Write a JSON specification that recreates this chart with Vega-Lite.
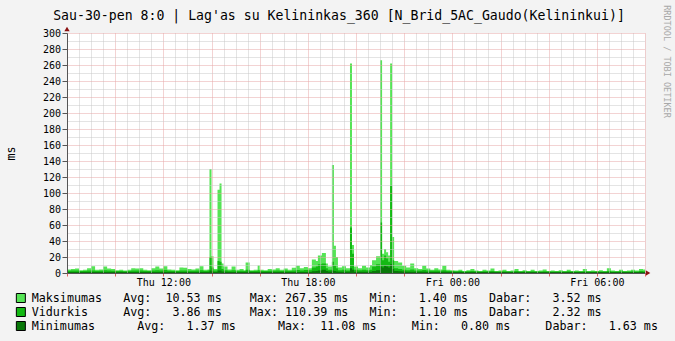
{
  "$schema": "https://vega.github.io/schema/vega-lite/v6.json",
  "width": 578,
  "height": 240,
  "autosize": {"type": "none"},
  "padding": {"left": 67, "top": 33, "right": 30, "bottom": 68},
  "background": "#f3f3f3",
  "config": {
    "view": {"fill": "white", "stroke": null},
    "font": "DejaVu Sans Mono"
  },
  "title": {
    "text": "Sau-30-pen 8:0 | Lag'as su Kelininkas_360 [N_Brid_5AC_Gaudo(Kelininkui)]",
    "font": "DejaVu Sans Mono",
    "fontSize": 13.2,
    "fontWeight": "normal",
    "color": "black",
    "anchor": "middle",
    "frame": "group",
    "dx": -17,
    "dy": 35,
    "baseline": "bottom",
    "offset": 4
  },
  "data": {
    "values": [
      {"t": "2015-01-29T08:00", "mx": 4.5, "av": 2.8, "mn": 1.3},
      {"t": "2015-01-29T08:10", "mx": 5, "av": 3, "mn": 1.4},
      {"t": "2015-01-29T08:20", "mx": 5.5, "av": 3, "mn": 1.3},
      {"t": "2015-01-29T08:30", "mx": 3.5, "av": 2.5, "mn": 1.2},
      {"t": "2015-01-29T08:40", "mx": 4, "av": 2.6, "mn": 1.3},
      {"t": "2015-01-29T08:50", "mx": 6, "av": 3, "mn": 1.3},
      {"t": "2015-01-29T09:00", "mx": 8.5, "av": 3.2, "mn": 1.4},
      {"t": "2015-01-29T09:10", "mx": 4, "av": 2.6, "mn": 1.2},
      {"t": "2015-01-29T09:20", "mx": 4.5, "av": 2.7, "mn": 1.3},
      {"t": "2015-01-29T09:30", "mx": 8, "av": 3.5, "mn": 1.4},
      {"t": "2015-01-29T09:40", "mx": 5.5, "av": 3, "mn": 1.3},
      {"t": "2015-01-29T09:50", "mx": 5, "av": 2.8, "mn": 1.3},
      {"t": "2015-01-29T10:00", "mx": 3.5, "av": 2.4, "mn": 1.2},
      {"t": "2015-01-29T10:10", "mx": 4, "av": 2.5, "mn": 1.3},
      {"t": "2015-01-29T10:20", "mx": 3, "av": 2.3, "mn": 1.2},
      {"t": "2015-01-29T10:30", "mx": 4, "av": 2.6, "mn": 1.3},
      {"t": "2015-01-29T10:40", "mx": 6, "av": 3, "mn": 1.3},
      {"t": "2015-01-29T10:50", "mx": 5.5, "av": 3.1, "mn": 1.4},
      {"t": "2015-01-29T11:00", "mx": 6, "av": 3.2, "mn": 1.3},
      {"t": "2015-01-29T11:10", "mx": 4, "av": 2.6, "mn": 1.3},
      {"t": "2015-01-29T11:20", "mx": 3.5, "av": 2.5, "mn": 1.2},
      {"t": "2015-01-29T11:30", "mx": 6, "av": 3, "mn": 1.3},
      {"t": "2015-01-29T11:40", "mx": 8, "av": 3.4, "mn": 1.4},
      {"t": "2015-01-29T11:50", "mx": 5.5, "av": 3, "mn": 1.3},
      {"t": "2015-01-29T12:00", "mx": 8.5, "av": 3.6, "mn": 1.4},
      {"t": "2015-01-29T12:10", "mx": 4.5, "av": 2.8, "mn": 1.3},
      {"t": "2015-01-29T12:20", "mx": 4, "av": 2.6, "mn": 1.2},
      {"t": "2015-01-29T12:30", "mx": 3.5, "av": 2.5, "mn": 1.3},
      {"t": "2015-01-29T12:40", "mx": 7, "av": 3.2, "mn": 1.3},
      {"t": "2015-01-29T12:50", "mx": 6.5, "av": 3, "mn": 1.4},
      {"t": "2015-01-29T13:00", "mx": 5, "av": 2.8, "mn": 1.3},
      {"t": "2015-01-29T13:10", "mx": 4.5, "av": 2.7, "mn": 1.3},
      {"t": "2015-01-29T13:20", "mx": 5.5, "av": 3, "mn": 1.3},
      {"t": "2015-01-29T13:30", "mx": 8.5, "av": 3.4, "mn": 1.4},
      {"t": "2015-01-29T13:40", "mx": 4, "av": 2.6, "mn": 1.3},
      {"t": "2015-01-29T13:50", "mx": 4.5, "av": 3, "mn": 1.3},
      {"t": "2015-01-29T13:55", "mx": 130, "av": 20, "mn": 3},
      {"t": "2015-01-29T14:00", "mx": 21, "av": 7, "mn": 2},
      {"t": "2015-01-29T14:05", "mx": 5, "av": 3, "mn": 1.4},
      {"t": "2015-01-29T14:15", "mx": 104, "av": 15, "mn": 3},
      {"t": "2015-01-29T14:20", "mx": 112, "av": 14, "mn": 3},
      {"t": "2015-01-29T14:25", "mx": 12, "av": 5, "mn": 1.8},
      {"t": "2015-01-29T14:30", "mx": 8, "av": 3.5, "mn": 1.5},
      {"t": "2015-01-29T14:40", "mx": 4.5, "av": 2.8, "mn": 1.3},
      {"t": "2015-01-29T14:50", "mx": 8, "av": 3.4, "mn": 1.4},
      {"t": "2015-01-29T15:00", "mx": 4, "av": 2.6, "mn": 1.3},
      {"t": "2015-01-29T15:10", "mx": 5, "av": 2.8, "mn": 1.3},
      {"t": "2015-01-29T15:20", "mx": 3.5, "av": 2.5, "mn": 1.2},
      {"t": "2015-01-29T15:25", "mx": 13, "av": 4, "mn": 1.5},
      {"t": "2015-01-29T15:35", "mx": 3.5, "av": 2.4, "mn": 1.2},
      {"t": "2015-01-29T15:45", "mx": 4, "av": 2.6, "mn": 1.3},
      {"t": "2015-01-29T15:55", "mx": 9.5, "av": 3.4, "mn": 1.4},
      {"t": "2015-01-29T16:00", "mx": 4, "av": 2.6, "mn": 1.3},
      {"t": "2015-01-29T16:10", "mx": 3.5, "av": 2.4, "mn": 1.2},
      {"t": "2015-01-29T16:20", "mx": 5, "av": 2.8, "mn": 1.3},
      {"t": "2015-01-29T16:30", "mx": 4.5, "av": 2.7, "mn": 1.3},
      {"t": "2015-01-29T16:40", "mx": 6, "av": 3.1, "mn": 1.3},
      {"t": "2015-01-29T16:50", "mx": 4, "av": 2.6, "mn": 1.2},
      {"t": "2015-01-29T17:00", "mx": 5.5, "av": 3, "mn": 1.3},
      {"t": "2015-01-29T17:10", "mx": 4, "av": 2.5, "mn": 1.3},
      {"t": "2015-01-29T17:20", "mx": 6.5, "av": 3.2, "mn": 1.3},
      {"t": "2015-01-29T17:30", "mx": 9, "av": 3.6, "mn": 1.4},
      {"t": "2015-01-29T17:40", "mx": 6, "av": 3.2, "mn": 1.3},
      {"t": "2015-01-29T17:50", "mx": 7.5, "av": 3.8, "mn": 1.4},
      {"t": "2015-01-29T18:00", "mx": 6, "av": 3.4, "mn": 1.4},
      {"t": "2015-01-29T18:10", "mx": 17, "av": 7, "mn": 2.2},
      {"t": "2015-01-29T18:20", "mx": 15, "av": 8, "mn": 2.5},
      {"t": "2015-01-29T18:25", "mx": 22, "av": 11, "mn": 3},
      {"t": "2015-01-29T18:35", "mx": 25, "av": 12, "mn": 4},
      {"t": "2015-01-29T18:45", "mx": 12, "av": 6, "mn": 2.5},
      {"t": "2015-01-29T18:50", "mx": 8, "av": 4, "mn": 1.8},
      {"t": "2015-01-29T19:00", "mx": 135, "av": 14, "mn": 3},
      {"t": "2015-01-29T19:05", "mx": 34, "av": 9, "mn": 2.5},
      {"t": "2015-01-29T19:10", "mx": 20, "av": 6, "mn": 2},
      {"t": "2015-01-29T19:15", "mx": 7, "av": 3.5, "mn": 1.6},
      {"t": "2015-01-29T19:25", "mx": 8.5, "av": 4, "mn": 1.6},
      {"t": "2015-01-29T19:35", "mx": 6, "av": 3.2, "mn": 1.5},
      {"t": "2015-01-29T19:45", "mx": 262, "av": 57, "mn": 6},
      {"t": "2015-01-29T19:50", "mx": 35, "av": 24, "mn": 4},
      {"t": "2015-01-29T19:55", "mx": 8, "av": 4, "mn": 1.7},
      {"t": "2015-01-29T20:05", "mx": 6, "av": 3.4, "mn": 1.5},
      {"t": "2015-01-29T20:15", "mx": 9, "av": 4, "mn": 1.6},
      {"t": "2015-01-29T20:25", "mx": 7, "av": 3.5, "mn": 1.5},
      {"t": "2015-01-29T20:35", "mx": 10, "av": 4.2, "mn": 1.7},
      {"t": "2015-01-29T20:40", "mx": 16, "av": 8, "mn": 2.5},
      {"t": "2015-01-29T20:50", "mx": 21, "av": 11, "mn": 3.5},
      {"t": "2015-01-29T21:00", "mx": 266, "av": 63, "mn": 8},
      {"t": "2015-01-29T21:05", "mx": 24, "av": 16, "mn": 7},
      {"t": "2015-01-29T21:10", "mx": 30, "av": 22, "mn": 9},
      {"t": "2015-01-29T21:15", "mx": 26, "av": 18, "mn": 8},
      {"t": "2015-01-29T21:20", "mx": 22, "av": 14, "mn": 7},
      {"t": "2015-01-29T21:25", "mx": 262, "av": 109, "mn": 11},
      {"t": "2015-01-29T21:30", "mx": 45, "av": 16, "mn": 5},
      {"t": "2015-01-29T21:35", "mx": 15, "av": 6, "mn": 2.5},
      {"t": "2015-01-29T21:45", "mx": 13, "av": 5, "mn": 2.2},
      {"t": "2015-01-29T21:55", "mx": 9, "av": 4, "mn": 1.8},
      {"t": "2015-01-29T22:05", "mx": 7, "av": 3.5, "mn": 1.6},
      {"t": "2015-01-29T22:15", "mx": 12, "av": 4.5, "mn": 1.7},
      {"t": "2015-01-29T22:25", "mx": 6, "av": 3.2, "mn": 1.5},
      {"t": "2015-01-29T22:35", "mx": 5, "av": 3, "mn": 1.5},
      {"t": "2015-01-29T22:45", "mx": 9, "av": 3.6, "mn": 1.6},
      {"t": "2015-01-29T22:55", "mx": 5.5, "av": 3, "mn": 1.4},
      {"t": "2015-01-29T23:05", "mx": 4, "av": 2.7, "mn": 1.4},
      {"t": "2015-01-29T23:15", "mx": 6, "av": 3, "mn": 1.4},
      {"t": "2015-01-29T23:25", "mx": 4.5, "av": 2.8, "mn": 1.4},
      {"t": "2015-01-29T23:35", "mx": 9, "av": 3.4, "mn": 1.5},
      {"t": "2015-01-29T23:45", "mx": 4, "av": 2.6, "mn": 1.3},
      {"t": "2015-01-29T23:55", "mx": 3.5, "av": 2.5, "mn": 1.3},
      {"t": "2015-01-30T00:05", "mx": 3, "av": 2.2, "mn": 1.2},
      {"t": "2015-01-30T00:15", "mx": 4, "av": 2.4, "mn": 1.2},
      {"t": "2015-01-30T00:25", "mx": 2.5, "av": 2, "mn": 1.1},
      {"t": "2015-01-30T00:35", "mx": 3.5, "av": 2.3, "mn": 1.2},
      {"t": "2015-01-30T00:45", "mx": 5, "av": 2.6, "mn": 1.2},
      {"t": "2015-01-30T00:55", "mx": 3, "av": 2.1, "mn": 1.1},
      {"t": "2015-01-30T01:05", "mx": 2.5, "av": 2, "mn": 1.1},
      {"t": "2015-01-30T01:15", "mx": 4, "av": 2.3, "mn": 1.2},
      {"t": "2015-01-30T01:25", "mx": 3, "av": 2.1, "mn": 1.1},
      {"t": "2015-01-30T01:35", "mx": 5.5, "av": 2.6, "mn": 1.2},
      {"t": "2015-01-30T01:45", "mx": 2.5, "av": 1.9, "mn": 1.1},
      {"t": "2015-01-30T01:55", "mx": 3, "av": 2, "mn": 1.1},
      {"t": "2015-01-30T02:05", "mx": 4, "av": 2.2, "mn": 1.2},
      {"t": "2015-01-30T02:15", "mx": 2.5, "av": 1.9, "mn": 1.1},
      {"t": "2015-01-30T02:25", "mx": 3, "av": 2, "mn": 1.1},
      {"t": "2015-01-30T02:35", "mx": 5, "av": 2.4, "mn": 1.2},
      {"t": "2015-01-30T02:45", "mx": 2.5, "av": 1.9, "mn": 1.1},
      {"t": "2015-01-30T02:55", "mx": 3.5, "av": 2.1, "mn": 1.1},
      {"t": "2015-01-30T03:05", "mx": 2.5, "av": 1.9, "mn": 1.1},
      {"t": "2015-01-30T03:15", "mx": 4, "av": 2.2, "mn": 1.2},
      {"t": "2015-01-30T03:25", "mx": 2.5, "av": 1.9, "mn": 1.1},
      {"t": "2015-01-30T03:35", "mx": 3, "av": 2, "mn": 1.1},
      {"t": "2015-01-30T03:45", "mx": 4.5, "av": 2.3, "mn": 1.2},
      {"t": "2015-01-30T03:55", "mx": 2.5, "av": 1.9, "mn": 1.1},
      {"t": "2015-01-30T04:05", "mx": 3, "av": 2, "mn": 1.1},
      {"t": "2015-01-30T04:15", "mx": 2.5, "av": 1.8, "mn": 1.1},
      {"t": "2015-01-30T04:25", "mx": 3.5, "av": 2, "mn": 1.1},
      {"t": "2015-01-30T04:35", "mx": 2.5, "av": 1.8, "mn": 1.1},
      {"t": "2015-01-30T04:45", "mx": 4, "av": 2.1, "mn": 1.2},
      {"t": "2015-01-30T04:55", "mx": 2.5, "av": 1.8, "mn": 1.1},
      {"t": "2015-01-30T05:05", "mx": 3, "av": 1.9, "mn": 1.1},
      {"t": "2015-01-30T05:15", "mx": 2.5, "av": 1.8, "mn": 1.1},
      {"t": "2015-01-30T05:25", "mx": 5, "av": 2.3, "mn": 1.2},
      {"t": "2015-01-30T05:35", "mx": 2.5, "av": 1.8, "mn": 1.1},
      {"t": "2015-01-30T05:45", "mx": 3, "av": 1.9, "mn": 1.1},
      {"t": "2015-01-30T05:55", "mx": 2.5, "av": 1.8, "mn": 1.1},
      {"t": "2015-01-30T06:05", "mx": 3.5, "av": 2, "mn": 1.1},
      {"t": "2015-01-30T06:15", "mx": 2.5, "av": 1.8, "mn": 1.1},
      {"t": "2015-01-30T06:25", "mx": 6, "av": 2.4, "mn": 1.2},
      {"t": "2015-01-30T06:35", "mx": 3, "av": 1.9, "mn": 1.1},
      {"t": "2015-01-30T06:45", "mx": 2.5, "av": 1.8, "mn": 1.1},
      {"t": "2015-01-30T06:55", "mx": 4, "av": 2.1, "mn": 1.2},
      {"t": "2015-01-30T07:05", "mx": 2.5, "av": 1.8, "mn": 1.1},
      {"t": "2015-01-30T07:15", "mx": 3, "av": 1.9, "mn": 1.1},
      {"t": "2015-01-30T07:25", "mx": 4, "av": 2.2, "mn": 1.2},
      {"t": "2015-01-30T07:35", "mx": 3, "av": 2, "mn": 1.1},
      {"t": "2015-01-30T07:45", "mx": 5, "av": 2.4, "mn": 1.2},
      {"t": "2015-01-30T07:55", "mx": 4.5, "av": 2.3, "mn": 1.2},
      {"t": "2015-01-30T08:00", "mx": 4.5, "av": 2.3, "mn": 1.2}
    ]
  },
  "layer": [
    {
      "mark": {"type": "area", "interpolate": "step-after", "clip": true},
      "encoding": {
        "x": {
          "field": "t", "type": "temporal",
          "scale": {"domain": [{"year": 2015, "month": 1, "date": 29, "hours": 8}, {"year": 2015, "month": 1, "date": 30, "hours": 8}]},
          "axis": {
            "title": null,
            "zindex": 1,
            "tickCount": 48,
            "grid": true,
            "gridDash": [1, 1],
            "gridWidth": 1,
            "gridColor": {"condition": {"test": "hours(datum.value) % 2 == 0 && minutes(datum.value) == 0", "value": "#e7a6a6"}, "value": "#c8c8c8"},
            "domain": true,
            "domainColor": "#555555",
            "ticks": true,
            "tickSize": 3,
            "tickColor": {"condition": {"test": "hours(datum.value) % 2 == 0 && minutes(datum.value) == 0", "value": "#e06060"}, "value": "transparent"},
            "labelExpr": "hours(datum.value) % 6 == 0 && minutes(datum.value) == 0 ? timeFormat(datum.value, '%a %H:%M') : ''",
            "labelOverlap": false,
            "labelFlush": false,
            "labelFont": "DejaVu Sans Mono",
            "labelFontSize": 10,
            "labelColor": "black",
            "labelBaseline": "middle",
            "labelPadding": 6.5
          }
        },
        "y": {
          "field": "mx", "type": "quantitative",
          "scale": {"domain": [0, 300], "nice": false},
          "axis": {
            "orient": "left",
            "title": "ms",
            "titleFont": "DejaVu Sans Mono",
            "titleFontSize": 11.7,
            "titleFontWeight": "normal",
            "titleColor": "black",
            "titleAngle": 270,
            "titleX": -57,
            "titleY": 120,
            "titleAlign": "center",
            "titleBaseline": "middle",
            "zindex": 1,
            "values": [0, 10, 20, 30, 40, 50, 60, 70, 80, 90, 100, 110, 120, 130, 140, 150, 160, 170, 180, 190, 200, 210, 220, 230, 240, 250, 260, 270, 280, 290, 300],
            "grid": true,
            "gridDash": [1, 1],
            "gridColor": {"condition": {"test": "datum.value % 20 == 0", "value": "#e7a6a6"}, "value": "#c8c8c8"},
            "domain": true,
            "domainColor": "#555555",
            "ticks": true,
            "tickSize": 5,
            "tickColor": {"condition": {"test": "datum.value % 20 == 0", "value": "#555555"}, "value": "transparent"},
            "labelExpr": "datum.value % 20 == 0 ? datum.label : ''",
            "labelFont": "DejaVu Sans Mono",
            "labelFontSize": 10,
            "labelColor": "black",
            "labelPadding": 1.5,
            "labelOverlap": false
          }
        },
        "color": {
          "datum": "Maksimumas",
          "scale": {"domain": ["Maksimumas", "Vidurkis", "Minimumas"], "range": ["#55e455", "#13b913", "#087808"]},
          "legend": {
            "orient": "none",
            "legendX": -52,
            "legendY": 258,
            "direction": "vertical",
            "title": null,
            "padding": 0,
            "symbolType": "square",
            "symbolSize": 81,
            "symbolOpacity": 1,
            "clipHeight": 14,
            "rowPadding": 0,
            "labelOffset": 5,
            "labelFont": "DejaVu Sans Mono",
            "labelFontSize": 11.7,
            "labelColor": "black",
            "labelLimit": 0,
            "labelExpr": "datum.label == 'Maksimumas' ? 'Maksimumas\u00a0\u00a0\u00a0Avg:\u00a0\u00a010.53\u00a0ms\u00a0\u00a0\u00a0\u00a0Max:\u00a0267.35\u00a0ms\u00a0\u00a0\u00a0Min:\u00a0\u00a0\u00a01.40\u00a0ms\u00a0\u00a0\u00a0Dabar:\u00a0\u00a0\u00a03.52\u00a0ms' : datum.label == 'Vidurkis' ? 'Vidurkis\u00a0\u00a0\u00a0\u00a0\u00a0Avg:\u00a0\u00a0\u00a03.86\u00a0ms\u00a0\u00a0\u00a0\u00a0Max:\u00a0110.39\u00a0ms\u00a0\u00a0\u00a0Min:\u00a0\u00a0\u00a01.10\u00a0ms\u00a0\u00a0\u00a0Dabar:\u00a0\u00a0\u00a02.32\u00a0ms' : 'Minimumas\u00a0\u00a0\u00a0\u00a0\u00a0\u00a0Avg:\u00a0\u00a0\u00a01.37\u00a0ms\u00a0\u00a0\u00a0\u00a0\u00a0\u00a0Max:\u00a0\u00a011.08\u00a0ms\u00a0\u00a0\u00a0\u00a0\u00a0Min:\u00a0\u00a0\u00a00.80\u00a0ms\u00a0\u00a0\u00a0\u00a0\u00a0Dabar:\u00a0\u00a0\u00a01.63\u00a0ms'",
            "encode": {"symbols": {"update": {"stroke": {"value": "black"}, "strokeWidth": {"value": 1}}}}
          }
        }
      }
    },
    {
      "mark": {"type": "area", "interpolate": "step-after", "clip": true},
      "encoding": {
        "x": {"field": "t", "type": "temporal"},
        "y": {"field": "av", "type": "quantitative", "axis": null},
        "color": {"datum": "Vidurkis"}
      }
    },
    {
      "mark": {"type": "area", "interpolate": "step-after", "clip": true},
      "encoding": {
        "x": {"field": "t", "type": "temporal"},
        "y": {"field": "mn", "type": "quantitative", "axis": null},
        "color": {"datum": "Minimumas"}
      }
    },
    {
      "data": {"values": [{}]},
      "mark": {"type": "point", "shape": "triangle-right", "filled": true, "size": 28, "color": "#8b1010", "opacity": 1, "xOffset": 3},
      "encoding": {
        "x": {"datum": {"year": 2015, "month": 1, "date": 30, "hours": 8}, "type": "temporal"},
        "y": {"datum": 0, "type": "quantitative", "axis": null}
      }
    },
    {
      "data": {"values": [{}]},
      "mark": {"type": "point", "shape": "triangle-up", "filled": true, "size": 28, "color": "#8b1010", "opacity": 1, "yOffset": -4},
      "encoding": {
        "x": {"datum": {"year": 2015, "month": 1, "date": 29, "hours": 8}, "type": "temporal"},
        "y": {
          "datum": 300, "type": "quantitative",
          "axis": {
            "orient": "right",
            "title": "RRDTOOL / TOBI OETIKER",
            "titleFont": "DejaVu Sans Mono",
            "titleFontSize": 8.5,
            "titleFontWeight": "normal",
            "titleColor": "#a8a8a8",
            "titleAngle": 90,
            "titleX": 21,
            "titleY": 28,
            "titleAlign": "center",
            "titleBaseline": "middle",
            "labels": false,
            "ticks": false,
            "domain": false,
            "grid": false
          }
        }
      }
    }
  ],
  "resolve": {"axis": {"y": "independent"}}
}
